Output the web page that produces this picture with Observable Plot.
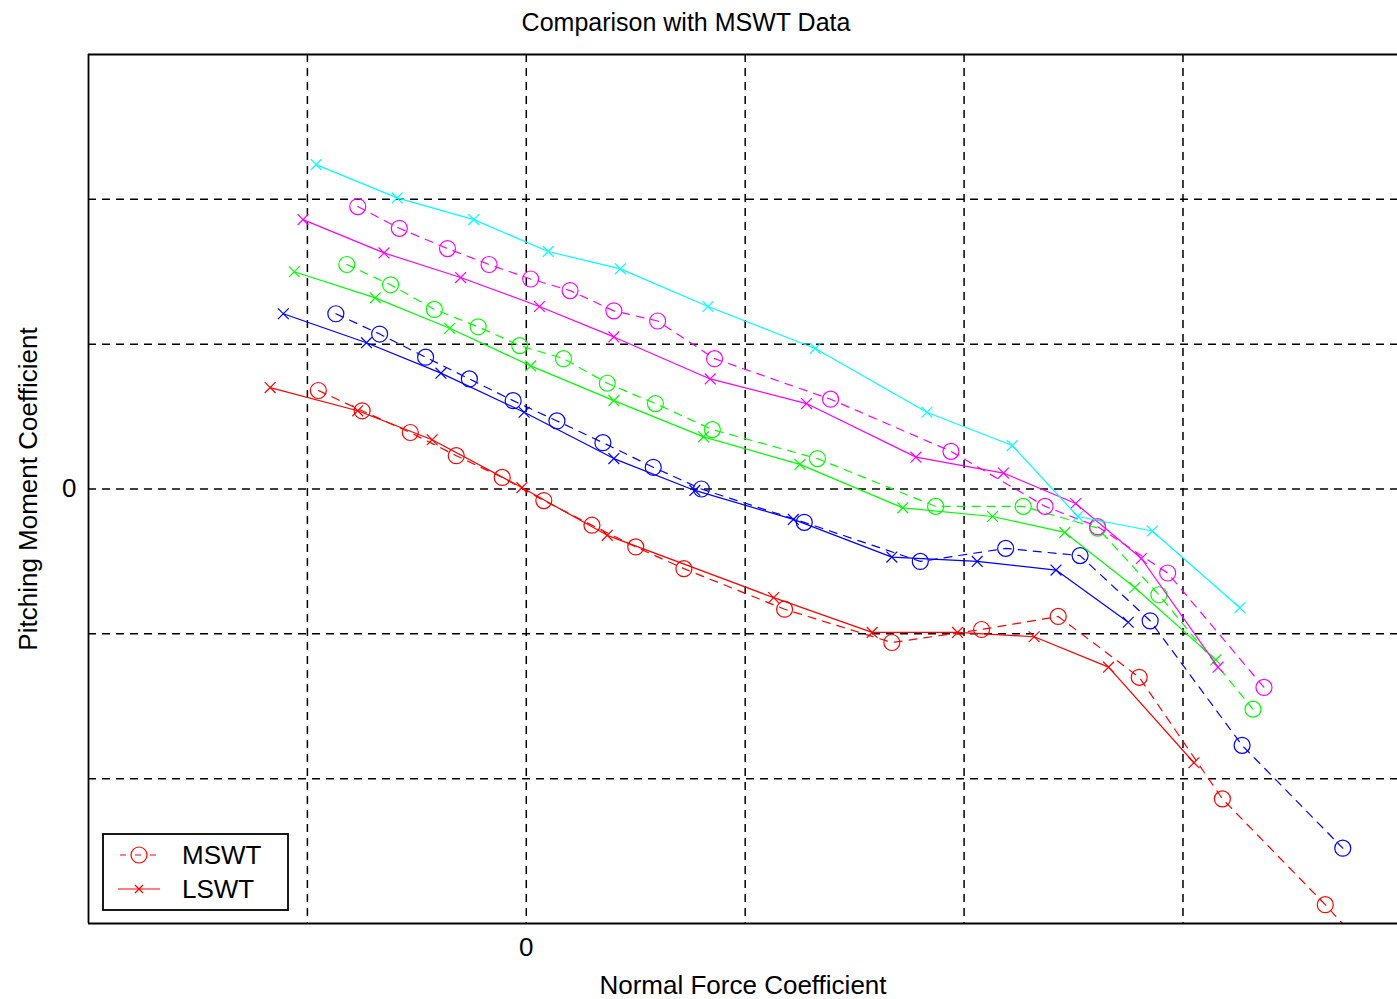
<!DOCTYPE html>
<html>
<head>
<meta charset="utf-8">
<script src="https://cdn.jsdelivr.net/npm/d3@7"></script>
<script src="https://cdn.jsdelivr.net/npm/@observablehq/plot@0.6"></script>
<style>
  html, body { margin: 0; padding: 0; background: #fff; }
  body { position: relative; width: 1397px; height: 999px; overflow: hidden; font-family: "Liberation Sans", Arial, sans-serif; }
  #title { width: 1372px; height: 44px; line-height: 44px; text-align: center; font-size: 25px; color: #000; }
  #legend { position: absolute; left: 102px; top: 833px; }
</style>
</head>
<body>
<div id="title">Comparison with MSWT Data</div>
<div id="chart"></div>
<div id="legend"></div>
<script>
// ---- data (Normal Force Coefficient, Pitching Moment Coefficient) ----
const mswtRed = [[-0.95,0.68],[-0.75,0.54],[-0.53,0.39],[-0.32,0.23],[-0.11,0.08],[0.08,-0.08],[0.30,-0.25],[0.50,-0.40],[0.72,-0.55],[1.18,-0.83],[1.67,-1.06],[2.08,-0.97],[2.43,-0.88],[2.80,-1.30],[3.18,-2.14],[3.65,-2.87],[4.09,-3.60]];
const lswtRed = [[-1.17,0.70],[-0.77,0.54],[-0.43,0.34],[-0.02,0.01],[0.37,-0.32],[1.13,-0.75],[1.58,-0.99],[1.97,-0.99],[2.32,-1.02],[2.66,-1.23],[3.05,-1.89]];
const mswtBlue = [[-0.87,1.21],[-0.67,1.07],[-0.46,0.91],[-0.26,0.76],[-0.06,0.61],[0.14,0.47],[0.35,0.32],[0.58,0.15],[0.80,0.00],[1.27,-0.23],[1.80,-0.50],[2.19,-0.41],[2.53,-0.46],[2.85,-0.91],[3.27,-1.77],[3.73,-2.48]];
const lswtBlue = [[-1.11,1.21],[-0.73,1.01],[-0.39,0.80],[-0.01,0.53],[0.40,0.21],[0.77,-0.01],[1.22,-0.21],[1.67,-0.47],[2.06,-0.50],[2.42,-0.56],[2.75,-0.92]];
const mswtGreen = [[-0.82,1.55],[-0.62,1.41],[-0.42,1.24],[-0.22,1.12],[-0.03,0.99],[0.17,0.90],[0.37,0.73],[0.59,0.59],[0.85,0.41],[1.33,0.21],[1.87,-0.12],[2.27,-0.12],[2.61,-0.27],[2.89,-0.73],[3.32,-1.52]];
const lswtGreen = [[-1.06,1.50],[-0.69,1.32],[-0.35,1.11],[0.02,0.85],[0.40,0.61],[0.81,0.36],[1.25,0.17],[1.72,-0.13],[2.13,-0.19],[2.46,-0.30],[2.78,-0.68],[3.15,-1.18]];
const mswtMagenta = [[-0.77,1.95],[-0.58,1.80],[-0.36,1.66],[-0.17,1.55],[0.02,1.45],[0.20,1.37],[0.40,1.23],[0.60,1.16],[0.86,0.90],[1.39,0.62],[1.94,0.26],[2.37,-0.12],[2.61,-0.26],[2.93,-0.58],[3.37,-1.37]];
const lswtMagenta = [[-1.02,1.86],[-0.65,1.63],[-0.30,1.46],[0.06,1.26],[0.40,1.05],[0.84,0.76],[1.28,0.59],[1.78,0.22],[2.18,0.11],[2.51,-0.10],[2.81,-0.48],[3.16,-1.23]];
const lswtCyan = [[-0.96,2.24],[-0.59,2.01],[-0.24,1.86],[0.10,1.64],[0.43,1.52],[0.83,1.26],[1.32,0.97],[1.83,0.53],[2.22,0.30],[2.52,-0.19],[2.86,-0.29],[3.26,-0.82]];

const gridX = [-1, 0, 1, 2, 3];
const gridY = [-2, -1, 0, 1, 2];
const tickLabelsX = [0];
const tickLabelsY = [0];

// ---- build table ----
const series = [
  {name: "MSWT", color: "#ff0000", pts: mswtRed},
  {name: "LSWT", color: "#ff0000", pts: lswtRed},
  {name: "MSWT", color: "#0000ff", pts: mswtBlue},
  {name: "LSWT", color: "#0000ff", pts: lswtBlue},
  {name: "MSWT", color: "#00ff00", pts: mswtGreen},
  {name: "LSWT", color: "#00ff00", pts: lswtGreen},
  {name: "MSWT", color: "#ff00ff", pts: mswtMagenta},
  {name: "LSWT", color: "#ff00ff", pts: lswtMagenta},
  {name: "LSWT", color: "#00ffff", pts: lswtCyan}
];

const marks = [];
// grid
marks.push(Plot.ruleX(gridX, {stroke: "#000", strokeWidth: 1.5, strokeDasharray: "8,6"}));
marks.push(Plot.ruleY(gridY, {stroke: "#000", strokeWidth: 1.5, strokeDasharray: "8,6"}));

series.forEach((s, i) => {
  const rows = s.pts.map(([x, y]) => ({x, y}));
  const visible = rows.filter(d => d.y >= -3 && d.y <= 3 && d.x <= 4);
  if (s.name === "MSWT") {
    marks.push(Plot.line(rows, {x: "x", y: "y", stroke: s.color, strokeWidth: 1.2, strokeDasharray: "8,7", clip: true}));
    marks.push(Plot.dot(visible, {x: "x", y: "y", stroke: s.color, r: 8, strokeWidth: 1.2, fill: "none"}));
  } else {
    marks.push(Plot.line(rows, {x: "x", y: "y", stroke: s.color, strokeWidth: 1.2, clip: true}));
    marks.push(Plot.dot(visible, {x: "x", y: "y", stroke: s.color, symbol: "times", r: 5, strokeWidth: 1.2}));
  }
});

// frame (left, top, bottom; right edge is cut off in the reference)
marks.push(Plot.ruleY([3, -3], {stroke: "#000", strokeWidth: 1.8}));
marks.push(Plot.ruleX([-2], {stroke: "#000", strokeWidth: 1.8}));

// axis titles
marks.push(Plot.text(["Normal Force Coefficient"], {frameAnchor: "bottom", dy: 70, fontSize: 26, fill: "#000", textAnchor: "middle"}));
marks.push(Plot.text(["Pitching Moment Coefficient"], {frameAnchor: "left", dx: -60, rotate: -90, fontSize: 26, fill: "#000", textAnchor: "middle"}));

const chart = Plot.plot({
  width: 1397,
  height: 955,
  marginTop: 10,
  marginBottom: 76,
  marginLeft: 88,
  marginRight: 0,
  style: {fontFamily: "Liberation Sans, Arial, sans-serif", fontSize: "26px", background: "#fff", color: "#000"},
  x: {domain: [-2, 3.98], ticks: tickLabelsX, tickFormat: d3.format("d"), tickSize: 0, tickPadding: 14, label: null},
  y: {domain: [-3, 3], ticks: tickLabelsY, tickFormat: d3.format("d"), tickSize: 0, tickPadding: 12, label: null},
  marks
});
document.getElementById("chart").appendChild(chart);

// ---- legend ----
const lg = d3.select("#legend").append("svg").attr("width", 187).attr("height", 78);
lg.append("rect").attr("x", 1).attr("y", 1).attr("width", 185).attr("height", 76)
  .attr("fill", "#fff").attr("stroke", "#000").attr("stroke-width", 1.8);
const entries = [{label: "MSWT", dash: "8,7", sym: "circle", y: 22}, {label: "LSWT", dash: null, sym: "times", y: 56}];
entries.forEach(e => {
  const l = lg.append("line").attr("x1", 16).attr("x2", 58).attr("y1", e.y).attr("y2", e.y)
    .attr("stroke", "#ff0000").attr("stroke-width", 1.2);
  if (e.dash) l.attr("stroke-dasharray", "6,9").attr("stroke-dashoffset", -2);
  if (e.sym === "circle") {
    lg.append("circle").attr("cx", 37).attr("cy", e.y).attr("r", 8).attr("fill", "none").attr("stroke", "#ff0000").attr("stroke-width", 1.2);
  } else {
    lg.append("path").attr("d", `M${33},${e.y-4}L${41},${e.y+4}M${41},${e.y-4}L${33},${e.y+4}`).attr("stroke", "#ff0000").attr("stroke-width", 1.2);
  }
  lg.append("text").attr("x", 80).attr("y", e.y + 9).attr("font-size", 26)
    .attr("font-family", "Liberation Sans, Arial, sans-serif").text(e.label);
});
</script>
</body>
</html>
